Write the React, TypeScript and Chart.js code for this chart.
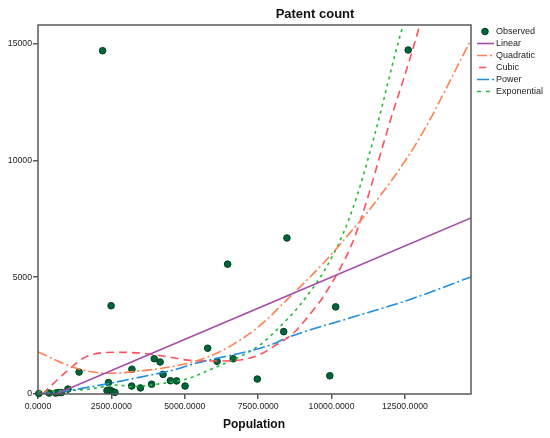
import { useRef, useEffect } from "react";
import Chart from "chart.js/auto";
import type { Chart as ChartJS, Plugin } from "chart.js";

// observed cases
const obsX = [30, 380, 600, 700, 800, 1020, 1400, 2400, 2350, 2450, 2530, 2620, 2490, 2200, 3200, 3190, 3490, 3870, 3960, 4160, 4260, 4510, 4720, 5010, 5780, 6100, 6650, 7470, 8370, 9940, 10140, 6460, 8480, 12610];
const obsY = [20, 40, 40, 60, 60, 210, 940, 490, 150, 170, 110, 70, 3780, 14700, 1060, 340, 260, 420, 1510, 1370, 840, 570, 560, 340, 1960, 1400, 1510, 640, 2670, 780, 3730, 5560, 6680, 14730];

// fitted curves
const linearX = [0, 14750];
const linearY = [-330, 7540];

const quadX = [0, 1310, 2446, 3469, 4946, 6085, 7220, 7904, 8130, 9720, 10860, 11200, 12960, 14750];
const quadY = [1800, 1100, 886, 985, 1271, 1742, 2600, 3312, 3600, 5600, 7240, 7740, 10880, 15170];

const cubicX = [150, 968, 1650, 2673, 3582, 4378, 5287, 6085, 6880, 7560, 8015, 8697, 9380, 9720, 10655, 11030, 11940, 12960, 13100];
const cubicY = [0, 955, 1600, 1786, 1742, 1600, 1428, 1414, 1457, 1690, 2027, 2600, 3600, 4170, 6310, 7600, 11450, 15600, 16300];

const powerX = [0, 1003, 3673, 4832, 5174, 8073, 8357, 10970, 12623, 14750];
const powerY = [0, 141, 771, 1100, 1243, 2170, 2343, 3385, 4027, 5013];

const expX = [0, 1650, 2763, 3128, 4264, 5061, 5970, 6880, 7560, 8243, 8925, 9835, 10400, 10860, 11484, 12395, 12650];
const expY = [100, 200, 386, 313, 458, 643, 1100, 1600, 2100, 2885, 3813, 5455, 6885, 8453, 11170, 15600, 16500];

const xTicks = [0, 2500, 5000, 7500, 10000, 12500];
const yTicks = [0, 5000, 10000, 15000];

const FONT = "'Liberation Sans', Arial, sans-serif";

const pts = (xs: number[], ys: number[]) => xs.map((x, i) => ({ x, y: ys[i] }));

type Item = { label: string; color: string; dash?: number[]; dot?: boolean };
const legendItems: Item[] = [
  { label: "Observed", color: "#00663a", dot: true },
  { label: "Linear", color: "#a64ca6" },
  { label: "Quadratic", color: "#ff8050", dash: [10, 3, 2, 3] },
  { label: "Cubic", color: "#ff4f5e", dash: [0, 2, 7, 20] },
  { label: "Power", color: "#1e8ee0", dash: [12, 3, 2, 3] },
  { label: "Exponential", color: "#22bb33", dash: [4, 5] },
];

const decorations: Plugin<"scatter"> = {
  id: "decorations",
  afterDraw(chart) {
    const { ctx, chartArea: a } = chart;
    ctx.save();
    ctx.strokeStyle = "#5a5a5a";
    ctx.lineWidth = 1.5;
    ctx.strokeRect(a.left, a.top, a.right - a.left, a.bottom - a.top);

    ctx.fillStyle = "#111";
    ctx.textAlign = "center";
    ctx.textBaseline = "middle";
    ctx.font = `bold 13px ${FONT}`;
    ctx.fillText("Patent count", 315, 14);
    ctx.font = `bold 12px ${FONT}`;
    ctx.fillText("Population", 254, 425);

    ctx.font = `9px ${FONT}`;
    ctx.textAlign = "left";
    legendItems.forEach((it, i) => {
      const y = 31.5 + i * 12;
      if (it.dot) {
        ctx.beginPath();
        ctx.arc(485, y, 3.3, 0, Math.PI * 2);
        ctx.fillStyle = it.color;
        ctx.fill();
        ctx.strokeStyle = "#003d20";
        ctx.lineWidth = 1;
        ctx.stroke();
      } else {
        ctx.beginPath();
        ctx.setLineDash(it.dash ?? []);
        ctx.strokeStyle = it.color;
        ctx.lineWidth = 1.6;
        ctx.moveTo(477, y);
        ctx.lineTo(494, y);
        ctx.stroke();
        ctx.setLineDash([]);
      }
      ctx.fillStyle = "#222";
      ctx.fillText(it.label, 496, y + 0.5);
    });
    ctx.restore();
  },
};

const curve = (label: string, xs: number[], ys: number[], color: string, dash: number[]) => ({
  label,
  data: pts(xs, ys),
  showLine: true,
  borderColor: color,
  backgroundColor: color,
  borderWidth: 1.6,
  borderDash: dash,
  pointRadius: 0,
  cubicInterpolationMode: "monotone" as const,
});

export default function App() {
  const canvasRef = useRef<HTMLCanvasElement | null>(null);
  const chartRef = useRef<ChartJS | null>(null);

  useEffect(() => {
    document.body.style.margin = "0";
    if (!canvasRef.current) return;
    if (chartRef.current) chartRef.current.destroy();

    chartRef.current = new Chart(canvasRef.current, {
      type: "scatter",
      data: {
        datasets: [
          curve("Linear", linearX, linearY, "#a64ca6", []),
          curve("Quadratic", quadX, quadY, "#ff8050", [10, 3, 2, 3]),
          curve("Cubic", cubicX, cubicY, "#ff4f5e", [8, 5]),
          curve("Power", powerX, powerY, "#1e8ee0", [12, 3, 2, 3]),
          curve("Exponential", expX, expY, "#22bb33", [3, 4]),
          {
            label: "Observed",
            data: pts(obsX, obsY),
            backgroundColor: "#00663a",
            borderColor: "#003d20",
            borderWidth: 1,
            pointRadius: 3.3,
            clip: false,
          },
        ],
      },
      options: {
        responsive: false,
        animation: false,
        devicePixelRatio: 1,
        layout: { padding: { top: 25, right: 79, left: 0, bottom: 0 } },
        plugins: {
          legend: { display: false },
          title: { display: false },
          tooltip: { enabled: false },
        },
        scales: {
          x: {
            type: "linear",
            min: 0,
            max: 14750,
            afterBuildTicks: (s) => {
              s.ticks = xTicks.map((value) => ({ value }));
            },
            afterFit: (s) => {
              s.height = 44;
            },
            border: { display: false },
            grid: { drawOnChartArea: false, tickLength: 5, color: "#5a5a5a", lineWidth: 1.5 },
            ticks: {
              autoSkip: false,
              maxRotation: 0,
              padding: 2,
              color: "#222",
              font: { family: FONT, size: 8.7 },
              callback: (v) => Number(v).toFixed(4),
            },
          },
          y: {
            type: "linear",
            min: 0,
            max: 15800,
            afterBuildTicks: (s) => {
              s.ticks = yTicks.map((value) => ({ value }));
            },
            afterFit: (s) => {
              s.width = 38;
            },
            border: { display: false },
            grid: { drawOnChartArea: false, tickLength: 5, color: "#5a5a5a", lineWidth: 1.5 },
            ticks: {
              padding: 1,
              color: "#222",
              font: { family: FONT, size: 8.7 },
              callback: (v) => String(v),
            },
          },
        },
      },
      plugins: [decorations],
    });

    return () => chartRef.current?.destroy();
  }, []);

  return <canvas ref={canvasRef} width={550} height={438} />;
}
